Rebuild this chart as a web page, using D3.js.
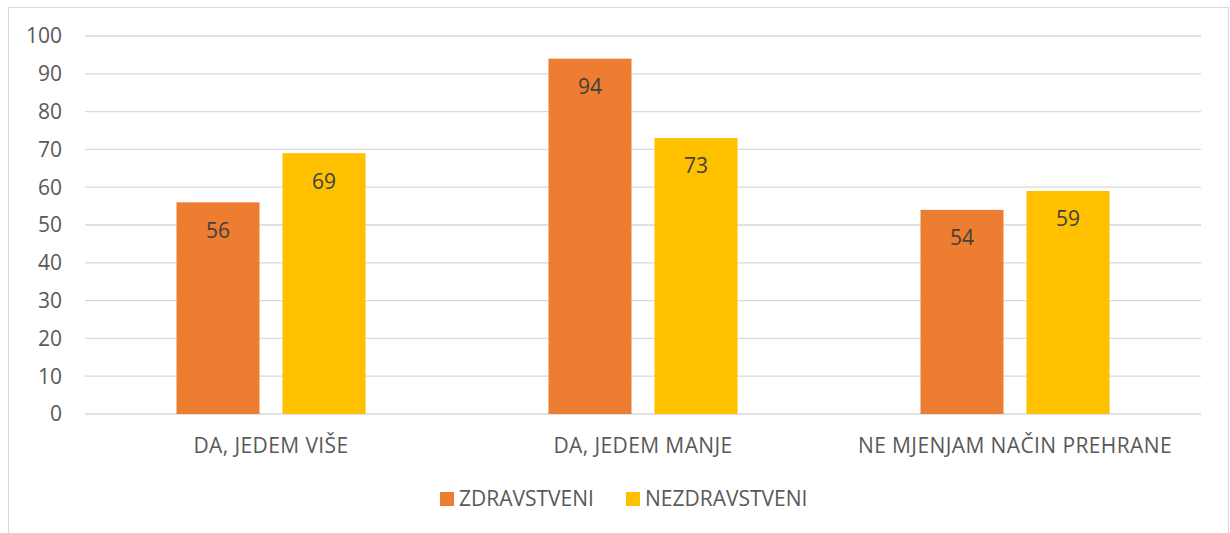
<!DOCTYPE html>
<html>
<head>
<meta charset="utf-8">
<script src="https://cdn.jsdelivr.net/npm/d3@7"></script>
<style>
  body { margin: 0; background: #fff; }
  svg text { font-family: "Open Sans", sans-serif; }
</style>
</head>
<body>
<div id="chart"></div>
<script>
// data
const categories = ["DA, JEDEM VIŠE", "DA, JEDEM MANJE", "NE MJENJAM NAČIN PREHRANE"];
const seriesNames = ["ZDRAVSTVENI", "NEZDRAVSTVENI"];
const zdravstveni = [56, 94, 54];
const nezdravstveni = [69, 73, 59];
const yTicks = [0, 10, 20, 30, 40, 50, 60, 70, 80, 90, 100];
const colors = ["#ED7D31", "#FFC000"];

const width = 1230, height = 533;
const margin = {top: 36, right: 29, bottom: 119, left: 85};

const svg = d3.select("#chart").append("svg")
  .attr("width", width)
  .attr("height", height);

// chart border
svg.append("rect")
  .attr("x", 8.5).attr("y", 7.5)
  .attr("width", 1220).attr("height", 540)
  .attr("fill", "none")
  .attr("stroke", "#d9d9d9");

const x = d3.scaleBand()
  .domain(categories)
  .range([margin.left, width - margin.right])
  .paddingInner(0).paddingOuter(0);

const y = d3.scaleLinear()
  .domain([0, 100])
  .range([height - margin.bottom, margin.top]);

// gridlines
svg.append("g")
  .selectAll("line")
  .data(yTicks)
  .join("line")
  .attr("x1", margin.left).attr("x2", width - margin.right)
  .attr("y1", d => y(d)).attr("y2", d => y(d))
  .attr("stroke", "#d9d9d9")
  .attr("stroke-width", 1.3);

// y axis labels
svg.append("g")
  .selectAll("text")
  .data(yTicks)
  .join("text")
  .attr("x", 62)
  .attr("y", d => y(d))
  .attr("dy", "0.35em")
  .attr("text-anchor", "end")
  .attr("fill", "#595959")
  .style("font-size", "21px")
  .text(d => d);

// bars
const x1 = d3.scaleBand()
  .domain(seriesNames)
  .range([0, x.bandwidth()])
  .paddingInner(0.217)
  .paddingOuter(0.863);

const rows = categories.map((c, i) => ({cat: c, values: [zdravstveni[i], nezdravstveni[i]]}));

const groups = svg.append("g")
  .selectAll("g")
  .data(rows)
  .join("g")
  .attr("transform", d => `translate(${x(d.cat)},0)`);

groups.selectAll("rect")
  .data(d => d.values.map((v, j) => ({name: seriesNames[j], v, j})))
  .join("rect")
  .attr("x", d => x1(d.name))
  .attr("width", x1.bandwidth())
  .attr("y", d => y(d.v))
  .attr("height", d => y(0) - y(d.v))
  .attr("fill", d => colors[d.j]);

groups.selectAll("text")
  .data(d => d.values.map((v, j) => ({name: seriesNames[j], v, j})))
  .join("text")
  .attr("x", d => x1(d.name) + x1.bandwidth() / 2)
  .attr("y", d => y(d.v) + 28)
  .attr("dy", "0.35em")
  .attr("text-anchor", "middle")
  .attr("fill", "#404040")
  .style("font-size", "21px")
  .text(d => d.v);

// category labels
svg.append("g")
  .selectAll("text")
  .data(categories)
  .join("text")
  .attr("x", d => x(d) + x.bandwidth() / 2)
  .attr("y", y(0) + 32)
  .attr("dy", "0.35em")
  .attr("text-anchor", "middle")
  .attr("fill", "#595959")
  .style("font-size", "21px")
  .style("letter-spacing", "0.4px")
  .text(d => d);

// legend
const legend = svg.append("g");
const legendX = [440, 626];
seriesNames.forEach((name, i) => {
  legend.append("rect")
    .attr("x", legendX[i]).attr("y", 492)
    .attr("width", 14).attr("height", 14)
    .attr("fill", colors[i]);
  legend.append("text")
    .attr("x", legendX[i] + 19).attr("y", 499)
    .attr("dy", "0.35em")
    .attr("fill", "#595959")
    .style("font-size", "21px")
    .text(name);
});
</script>
</body>
</html>
